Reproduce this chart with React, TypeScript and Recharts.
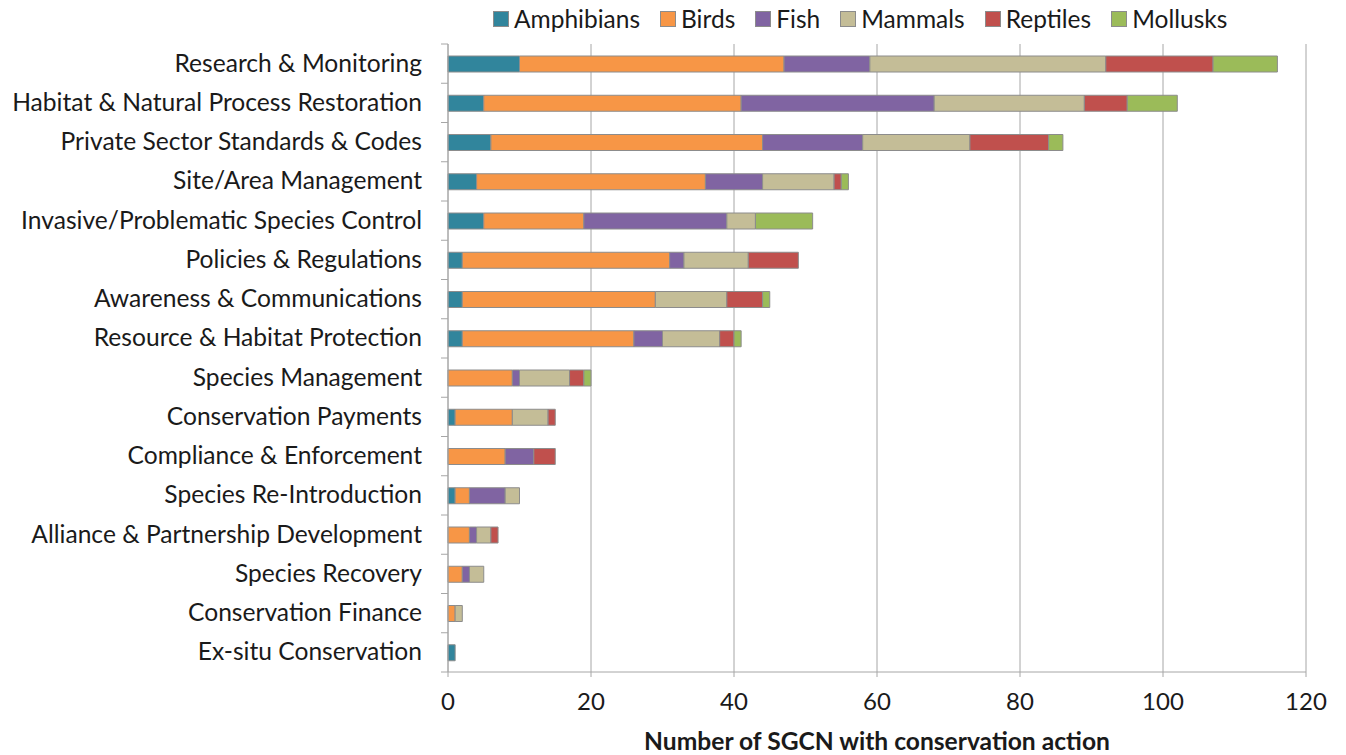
import React from 'react';
import { BarChart, Bar, XAxis, YAxis, CartesianGrid, Label } from 'recharts';

const categories = [
  'Research & Monitoring',
  'Habitat & Natural Process Restoration',
  'Private Sector Standards & Codes',
  'Site/Area Management',
  'Invasive/Problematic Species Control',
  'Policies & Regulations',
  'Awareness & Communications',
  'Resource & Habitat Protection',
  'Species Management',
  'Conservation Payments',
  'Compliance & Enforcement',
  'Species Re-Introduction',
  'Alliance & Partnership Development',
  'Species Recovery',
  'Conservation Finance',
  'Ex-situ Conservation',
];

const amphibians = [10, 5, 6, 4, 5, 2, 2, 2, 0, 1, 0, 1, 0, 0, 0, 1];
const birds = [37, 36, 38, 32, 14, 29, 27, 24, 9, 8, 8, 2, 3, 2, 1, 0];
const fish = [12, 27, 14, 8, 20, 2, 0, 4, 1, 0, 4, 5, 1, 1, 0, 0];
const mammals = [33, 21, 15, 10, 4, 9, 10, 8, 7, 5, 0, 2, 2, 2, 1, 0];
const reptiles = [15, 6, 11, 1, 0, 7, 5, 2, 2, 1, 3, 0, 1, 0, 0, 0];
const mollusks = [9, 7, 2, 1, 8, 0, 1, 1, 1, 0, 0, 0, 0, 0, 0, 0];

const xTicks = [0, 20, 40, 60, 80, 100, 120];

const series = [
  { key: 'Amphibians', color: '#31859C' },
  { key: 'Birds', color: '#F79646' },
  { key: 'Fish', color: '#8064A2' },
  { key: 'Mammals', color: '#C4BD97' },
  { key: 'Reptiles', color: '#C0504D' },
  { key: 'Mollusks', color: '#9BBB59' },
];

const data = categories.map((name, i) => ({
  name,
  Amphibians: amphibians[i],
  Birds: birds[i],
  Fish: fish[i],
  Mammals: mammals[i],
  Reptiles: reptiles[i],
  Mollusks: mollusks[i],
}));

const FONT = 'Lato, "Noto Sans", sans-serif';
const TEXT = '#1a1a1a';
const AXIS = '#a6a6a6';
const BAND = 628 / categories.length;

const CategoryTick = (props: any) => {
  const { x, y, payload, index } = props;
  const half = BAND / 2;
  return (
    <g>
      <text x={x - 26} y={y} dy={8} textAnchor="end" fontSize={24.6} fontFamily={FONT} fill={TEXT}>
        {payload.value}
      </text>
      <line x1={x - 7} x2={x} y1={y - half} y2={y - half} stroke={AXIS} />
      {index === categories.length - 1 && (
        <line x1={x - 7} x2={x} y1={y + half} y2={y + half} stroke={AXIS} />
      )}
    </g>
  );
};

// legend drawn as a plain overlay so it doesn't eat into the plot area
const TopLegend = () => (
  <div
    style={{
      position: 'absolute',
      left: 493,
      top: 4,
      display: 'flex',
      alignItems: 'center',
      fontFamily: FONT,
      fontSize: 24.5,
      color: TEXT,
      whiteSpace: 'nowrap',
    }}
  >
    {series.map((s) => (
      <div key={s.key} style={{ display: 'flex', alignItems: 'center', marginRight: 20 }}>
        <span
          style={{
            display: 'inline-block',
            width: 14,
            height: 14,
            background: s.color,
            border: '1px solid #8c8c8c',
            marginRight: 5,
          }}
        />
        <span>{s.key}</span>
      </div>
    ))}
  </div>
);

export default function App() {
  return (
    <div style={{ position: 'absolute', left: 0, top: 0, width: 1346, height: 755, background: '#fff' }}>
      <BarChart
        width={1346}
        height={755}
        data={data}
        layout="vertical"
        margin={{ top: 44, right: 40, bottom: 0, left: 0 }}
        barSize={16}
      >
        <CartesianGrid horizontal={false} stroke={AXIS} strokeWidth={1} />
        <XAxis
          type="number"
          domain={[0, 120]}
          ticks={xTicks}
          height={83}
          axisLine={{ stroke: AXIS }}
          tickLine={{ stroke: AXIS }}
          tickSize={5}
          tickMargin={16}
          tick={{ fontSize: 24, fontFamily: FONT, fill: TEXT }}
        >
          <Label
            value="Number of SGCN with conservation action"
            position="insideBottom"
            offset={5}
            style={{ fontSize: 24.6, fontFamily: FONT, fontWeight: 'bold', fill: TEXT }}
          />
        </XAxis>
        <YAxis
          type="category"
          dataKey="name"
          width={448}
          axisLine={{ stroke: AXIS }}
          tickLine={false}
          tickSize={0}
          tickMargin={0}
          interval={0}
          tick={<CategoryTick />}
        />
        {series.map((s) => (
          <Bar
            key={s.key}
            dataKey={s.key}
            stackId="a"
            fill={s.color}
            stroke="#8c8c8c"
            strokeWidth={1}
            isAnimationActive={false}
          />
        ))}
      </BarChart>
      <TopLegend />
    </div>
  );
}
